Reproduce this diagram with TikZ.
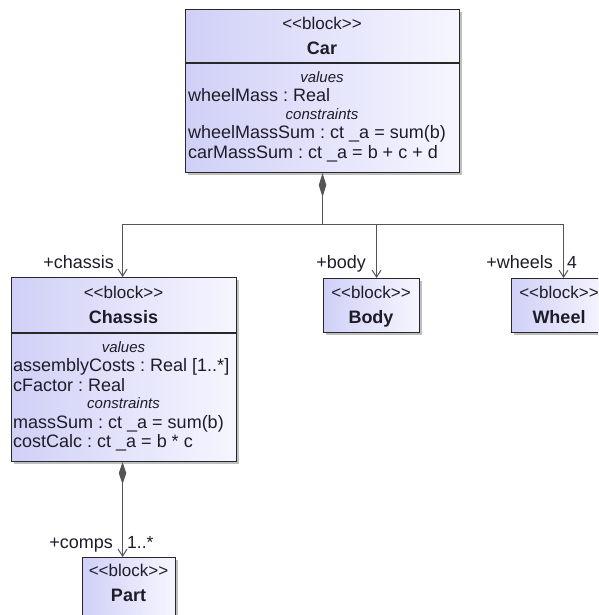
\documentclass[tikz,border=0pt]{standalone}
\usepackage{fontspec}
\setmainfont{Liberation Sans}
\usetikzlibrary{arrows.meta,shadows}
\definecolor{blockL}{RGB}{208,208,247}
\definecolor{blockR}{RGB}{246,246,255}
\definecolor{edge}{RGB}{40,40,40}
\definecolor{wire}{RGB}{85,85,85}
\definecolor{ink}{RGB}{30,28,40}
\newcommand{\stereotype}[1]{<{}<#1>{}>}
\begin{document}
\begin{tikzpicture}[x=1pt,y=-1pt,
  blockbox/.style={draw=edge, line width=1.1pt, left color=blockL, right color=blockR,
    anchor=north west, inner sep=0pt,
    drop shadow={shadow xshift=2.5pt, shadow yshift=-2.5pt, fill=black!50, opacity=0.5}},
  stereo/.style={font=\fontsize{17}{17}\selectfont, text=ink, anchor=base, inner sep=0pt},
  bname/.style={font=\fontsize{18}{18}\selectfont\bfseries, text=ink, anchor=base, inner sep=0pt},
  section/.style={font=\fontsize{15}{15}\selectfont\itshape, text=ink, anchor=base, inner sep=0pt},
  attr/.style={font=\fontsize{18}{18}\selectfont\frenchspacing, text=ink, anchor=base west, inner sep=0pt},
  role/.style={font=\fontsize{18}{18}\selectfont, text=ink, anchor=base east, inner sep=0pt},
  mult/.style={font=\fontsize{17.5}{17.5}\selectfont, text=ink, anchor=base west, inner sep=0pt},
  sep/.style={draw=edge, line width=1.1pt},
  owner/.style={draw=wire, line width=1pt},
  comp/.style={owner, {Diamond[length=24pt,width=7.5pt,fill=wire]}-},
  nav/.style={owner, -{Straight Barb[length=7pt,width=9pt]}},
  compnav/.style={owner, {Diamond[length=22pt,width=7.5pt,fill=wire]}-{Straight Barb[length=7pt,width=9pt]}}]

\useasboundingbox (0,0) rectangle (598,615);
\clip (0,0) rectangle (598,615);

% ---- Car ----
\node[blockbox, minimum width=274pt, minimum height=163pt] (car) at (185,9) {};
\draw[sep] ([yshift=-54pt]car.north west) -- ([yshift=-54pt]car.north east);
\node[stereo] (carst) at (322,30) {\stereotype{block}};
\node[bname] (carnm) at (322,55) {Car};
\node[section] (carv) at (322,83) {values};
\node[attr] (cara1) at (188,102) {wheelMass : Real};
\node[section] (carc) at (322,119) {constraints};
\node[attr] (cara2) at (188,139) {wheelMassSum : ct \_a = sum(b)};
\node[attr] (cara3) at (188,158) {carMassSum : ct \_a = b + c + d};

% ---- Chassis ----
\node[blockbox, minimum width=225pt, minimum height=184pt] (chassis) at (11,277) {};
\draw[sep] ([yshift=-56pt]chassis.north west) -- ([yshift=-56pt]chassis.north east);
\node[stereo] (chst) at (123.5,298) {\stereotype{block}};
\node[bname] (chnm) at (123.5,323) {Chassis};
\node[section] (chv) at (123.5,352) {values};
\node[attr] (cha1) at (13,371) {assemblyCosts : Real [1..*]};
\node[attr] (cha2) at (13,391) {cFactor : Real};
\node[section] (chc) at (123.5,408) {constraints};
\node[attr] (cha3) at (13,428) {massSum : ct \_a = sum(b)};
\node[attr] (cha4) at (13,447) {costCalc : ct \_a = b * c};

% ---- Body ----
\node[blockbox, minimum width=96pt, minimum height=54pt] (body) at (323,278) {};
\node[stereo] (bost) at (371,298) {\stereotype{block}};
\node[bname] (bonm) at (371,323) {Body};

% ---- Wheel ----
\node[blockbox, minimum width=96pt, minimum height=54pt] (wheel) at (511,278) {};
\node[stereo] (whst) at (559,298) {\stereotype{block}};
\node[bname] (whnm) at (559,323) {Wheel};

% ---- Part ----
\node[blockbox, minimum width=93pt, minimum height=60pt] (part) at (82,557) {};
\node[stereo] (past) at (128.5,576) {\stereotype{block}};
\node[bname] (panm) at (128.5,601) {Part};

% ---- composition: Car owns chassis, body, wheels ----
\coordinate (split) at ([yshift=-51pt]car.south);
\draw[comp] (car.south) -- (split);
\draw[nav] (split) -| ([xshift=-1.5pt]chassis.north);
\draw[nav] (split) -| ([xshift=5pt]body.north);
\draw[nav] (split) -| ([xshift=4pt]wheel.north);

% ---- composition: Chassis owns parts ----
\draw[compnav] ([xshift=-1.5pt]chassis.south) -- ([xshift=-6.5pt]part.north);

% ---- role names and multiplicities ----
\node[role] (rchassis) at (114,268) {+chassis};
\node[role] (rbody) at (366,268) {+body};
\node[role] (rwheels) at (553,268) {+wheels};
\node[mult] (mwheels) at (567,268) {4};
\node[role] (rcomps) at (113,548) {+comps};
\node[mult] (mcomps) at (127,548) {1..*};
\end{tikzpicture}
\end{document}
